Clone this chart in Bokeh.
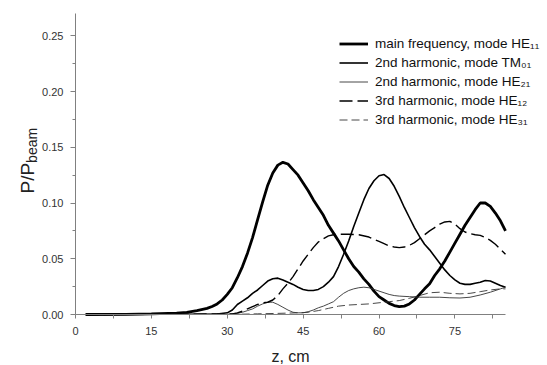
from bokeh.plotting import figure
from bokeh.models import (Range1d, FixedTicker, Legend, LegendItem, Label,
                          PrintfTickFormatter, LinearAxis)
from bokeh.embed import file_html
from bokeh.resources import INLINE

# ---------------- data ----------------
z_he11 = [2, 10, 15, 20, 22, 24, 26, 27, 28, 29, 30, 31, 32, 33, 34, 35, 36, 37, 38, 39,
          40, 41, 42, 43, 44, 45, 46, 47, 48, 49, 50, 51, 52, 53, 54, 55, 56, 57, 58, 59,
          60, 61, 62, 63, 64, 65, 66, 67, 68, 69, 70, 71, 72, 73, 74, 75, 76, 77, 78, 79,
          80, 81, 82, 83, 84, 85]
p_he11 = [0.0, 0.0002, 0.0005, 0.0012, 0.002, 0.0035, 0.0055, 0.0072, 0.0095, 0.013,
          0.018, 0.024, 0.033, 0.043, 0.055, 0.069, 0.085, 0.101, 0.116, 0.127,
          0.134, 0.1365, 0.135, 0.130, 0.125, 0.118, 0.111, 0.103, 0.096, 0.089,
          0.080, 0.073, 0.066, 0.058, 0.050, 0.043, 0.038, 0.032, 0.027, 0.021,
          0.016, 0.013, 0.010, 0.008, 0.007, 0.0075, 0.0095, 0.013, 0.018, 0.023,
          0.0275, 0.035, 0.041, 0.048, 0.056, 0.064, 0.072, 0.080, 0.087, 0.094,
          0.100, 0.100, 0.097, 0.091, 0.084, 0.075]

z_tm01 = [2, 28, 30, 31, 32, 33, 34, 35, 36, 37, 38, 39, 40, 41, 42, 43, 44, 45, 46, 47,
          48, 49, 50, 51, 52, 53, 54, 55, 56, 57, 58, 59, 60, 61, 62, 63, 64, 65, 66, 67,
          68, 69, 70, 71, 72, 73, 74, 75, 76, 77, 78, 79, 80, 81, 82, 83, 84, 85]
p_tm01 = [0.0, 0.0005, 0.0015, 0.004, 0.009, 0.012, 0.015, 0.019, 0.022, 0.026,
          0.030, 0.032, 0.0326, 0.031, 0.029, 0.027, 0.0245, 0.0225, 0.0215, 0.0215,
          0.0225, 0.025, 0.029, 0.034, 0.043, 0.054, 0.066, 0.079, 0.091, 0.103,
          0.113, 0.120, 0.1245, 0.1255, 0.122, 0.115, 0.106, 0.096, 0.087, 0.078,
          0.070, 0.063, 0.058, 0.052, 0.046, 0.040, 0.035, 0.031, 0.028, 0.027,
          0.027, 0.028, 0.029, 0.0305, 0.030, 0.028, 0.026, 0.0245]

z_he21 = [2, 30, 32, 33, 34, 35, 36, 37, 38, 39, 40, 41, 42, 43, 44, 45, 46, 47, 48, 49,
          50, 51, 52, 53, 54, 55, 56, 57, 58, 59, 60, 61, 62, 63, 64, 66, 68, 70, 72, 74,
          76, 78, 80, 82, 84, 85]
p_he21 = [0.0, 0.0002, 0.001, 0.002, 0.0035, 0.005, 0.0075, 0.0095, 0.011, 0.011,
          0.009, 0.0065, 0.004, 0.002, 0.0015, 0.0015, 0.0025, 0.004, 0.006, 0.0075,
          0.0095, 0.0115, 0.0155, 0.019, 0.0215, 0.023, 0.024, 0.0245, 0.024, 0.0225,
          0.021, 0.0195, 0.018, 0.017, 0.0165, 0.016, 0.0155, 0.0155, 0.0155, 0.015,
          0.0148, 0.0155, 0.0175, 0.020, 0.023, 0.0245]

z_he12 = [2, 31, 32, 33, 34, 35, 36, 37, 38, 39, 40, 41, 42, 43, 44, 45, 46, 47, 48, 49,
          50, 51, 52, 54, 56, 58, 59, 60, 61, 62, 63, 64, 65, 66, 67, 68, 69, 70, 71, 72,
          73, 74, 75, 76, 77, 78, 79, 80, 81, 82, 83, 84, 85]
p_he12 = [0.0, 0.0005, 0.0015, 0.003, 0.005, 0.007, 0.009, 0.0105, 0.011, 0.013,
          0.017, 0.023, 0.028, 0.034, 0.041, 0.048, 0.054, 0.060, 0.065, 0.068,
          0.0705, 0.0715, 0.072, 0.072, 0.0715, 0.0695, 0.0675, 0.0655, 0.0635, 0.0615,
          0.0605, 0.060, 0.0605, 0.062, 0.0645, 0.068, 0.0715, 0.075, 0.078, 0.081,
          0.083, 0.0835, 0.081, 0.077, 0.074, 0.0725, 0.0715, 0.071, 0.069, 0.0665,
          0.063, 0.0585, 0.054]

z_he31 = [2, 32, 36, 40, 44, 46, 48, 50, 52, 54, 56, 58, 60, 62, 64, 66, 68, 70, 72, 74,
          76, 78, 80, 82, 84, 85]
p_he31 = [0.0, 0.0002, 0.0006, 0.001, 0.0015, 0.002, 0.0035, 0.0055, 0.0075, 0.0085,
          0.009, 0.0095, 0.0105, 0.0115, 0.0125, 0.0145, 0.017, 0.0195, 0.020, 0.019,
          0.0185, 0.019, 0.0205, 0.022, 0.023, 0.023]

series_labels = ["main frequency, mode HE\u2081\u2081",
                 "2nd harmonic, mode TM\u2080\u2081",
                 "2nd harmonic, mode HE\u2082\u2081",
                 "3rd harmonic, mode HE\u2081\u2082",
                 "3rd harmonic, mode HE\u2083\u2081"]

x_major_ticks = [0, 15, 30, 45, 60, 75]
x_minor_ticks = [7.5, 22.5, 37.5, 52.5, 67.5, 82.5]
y_major_ticks = [0.0, 0.05, 0.10, 0.15, 0.20, 0.25]
y_minor_ticks = [0.025, 0.075, 0.125, 0.175, 0.225]
x_lo, x_hi = 0, 85
y_lo, y_hi = 0.0, 0.27

# ---------------- layout (pixels) ----------------
W, H = 547, 365
AX_LEFT, AX_RIGHT = 75, 505      # pixel position of x=0 and x=85
AX_BOTTOM, AX_TOP = 314, 13      # pixel position of y=0 and y=0.27
sx = (AX_RIGHT - AX_LEFT) / (x_hi - x_lo)
sy = (AX_BOTTOM - AX_TOP) / (y_hi - y_lo)
x_range = Range1d(x_lo - AX_LEFT / sx, x_hi + (W - AX_RIGHT) / sx)
y_range = Range1d(y_lo - (H - AX_BOTTOM) / sy, y_hi + AX_TOP / sy)

FONT = "Liberation Sans"
AXIS_GRAY = "#808080"

p = figure(width=W, height=H, output_backend="svg", toolbar_location=None,
           x_range=x_range, y_range=y_range,
           x_axis_location=None, y_axis_location=None, min_border=0)
p.outline_line_color = None
p.grid.visible = False
p.background_fill_color = "white"
p.border_fill_color = "white"

r1 = p.line(z_he11, p_he11, line_color="black", line_width=2.8)
r2 = p.line(z_tm01, p_tm01, line_color="black", line_width=1.6)
r3 = p.line(z_he21, p_he21, line_color="#333333", line_width=0.9)
r4 = p.line(z_he12, p_he12, line_color="black", line_width=1.4, line_dash="13 5")
r5 = p.line(z_he31, p_he31, line_color="#333333", line_width=0.9, line_dash="8 4")

# axes fixed at the data origin
xa = LinearAxis(fixed_location=0, bounds=(x_lo, x_hi),
                ticker=FixedTicker(ticks=x_major_ticks, minor_ticks=x_minor_ticks))
xa.axis_line_color = AXIS_GRAY
xa.major_tick_line_color = AXIS_GRAY
xa.minor_tick_line_color = AXIS_GRAY
xa.major_tick_in = 0
xa.major_tick_out = 4
xa.minor_tick_in = 0
xa.minor_tick_out = 4
xa.major_label_standoff = 8
xa.major_label_text_font = FONT
xa.major_label_text_font_size = "11px"
xa.major_label_text_color = "#333333"
p.add_layout(xa, "below")

ya = LinearAxis(fixed_location=0, bounds=(y_lo, y_hi),
                ticker=FixedTicker(ticks=y_major_ticks, minor_ticks=y_minor_ticks),
                formatter=PrintfTickFormatter(format="%.2f"))
ya.axis_line_color = AXIS_GRAY
ya.major_tick_line_color = AXIS_GRAY
ya.minor_tick_line_color = AXIS_GRAY
ya.major_tick_in = 0
ya.major_tick_out = 5
ya.minor_tick_in = 0
ya.minor_tick_out = 3
ya.major_label_standoff = 7
ya.major_label_text_font = FONT
ya.major_label_text_font_size = "11px"
ya.major_label_text_color = "#333333"
p.add_layout(ya, "left")

# axis titles (screen units from frame bottom-left = canvas bottom-left)
p.add_layout(Label(x=27, y=H - 193, x_units="screen", y_units="screen", text="P/P",
                   angle=90, angle_units="deg", text_font=FONT, text_font_size="19px",
                   text_align="left", text_baseline="alphabetic", text_color="#222222"))
p.add_layout(Label(x=31, y=H - 193 + 30.6, x_units="screen", y_units="screen", text="beam",
                   angle=90, angle_units="deg", text_font=FONT, text_font_size="14px",
                   text_align="left", text_baseline="alphabetic", text_color="#222222"))
p.add_layout(Label(x=290, y=H - 356, x_units="screen", y_units="screen", text="z, cm",
                   text_font=FONT, text_font_size="16px",
                   text_align="center", text_baseline="alphabetic", text_color="#222222"))

# legend
legend = Legend(items=[LegendItem(label=series_labels[0], renderers=[r1]),
                       LegendItem(label=series_labels[1], renderers=[r2]),
                       LegendItem(label=series_labels[2], renderers=[r3]),
                       LegendItem(label=series_labels[3], renderers=[r4]),
                       LegendItem(label=series_labels[4], renderers=[r5])],
                location=(339, H - 129), padding=0, margin=0, spacing=0,
                glyph_width=29, glyph_height=19, label_height=19, label_standoff=7,
                label_text_font=FONT, label_text_font_size="13.5px",
                label_text_color="#111111",
                border_line_color=None, background_fill_alpha=0)
p.add_layout(legend)

open("out.html", "w").write(file_html(p, INLINE))
